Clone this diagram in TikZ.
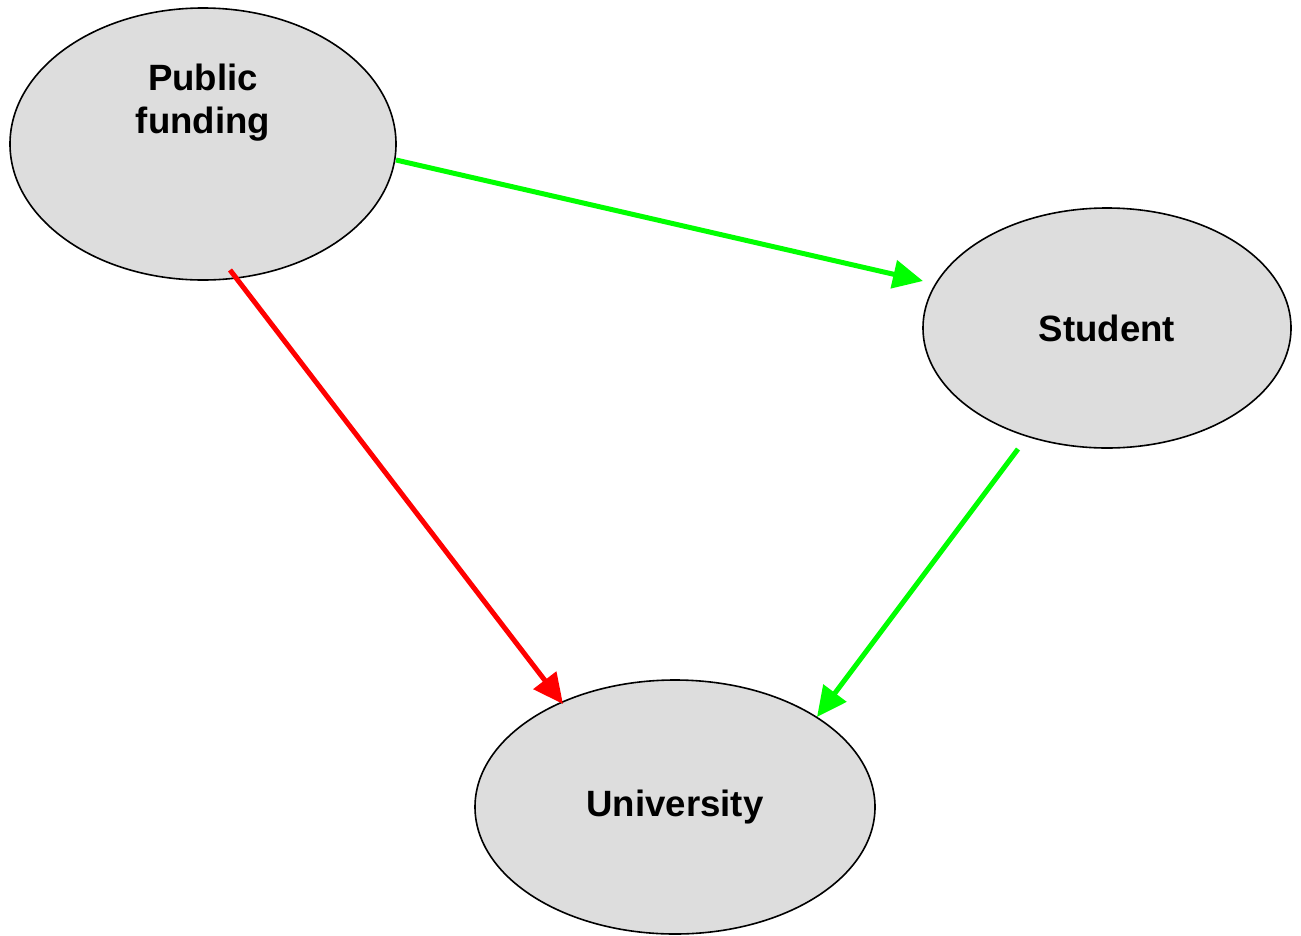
\documentclass[tikz,border=0pt]{standalone}
\usepackage{fontspec}
\setmainfont{Liberation Sans}
\usetikzlibrary{shapes.geometric,arrows.meta,calc}
\definecolor{nodefill}{HTML}{DDDDDD}
\definecolor{pgreen}{HTML}{00FF00}
\definecolor{pred}{HTML}{FF0000}
\begin{document}
\begin{tikzpicture}[x=1pt,y=-1pt,
  blob/.style={ellipse,draw=black,line width=1.6pt,fill=nodefill,inner sep=0pt},
  lbl/.style={font=\fontsize{36.6}{43}\selectfont\bfseries,align=center,inner sep=0pt},
  conn/.style={line width=5pt,-{Triangle[length=30pt,width=28pt]}}]
\useasboundingbox (0,0) rectangle (1301,935);
\node[blob,minimum width=386pt,minimum height=272pt] (pf) at (203,144) {};
\node[lbl] (pftext) at (203,103) {Public\\funding};
\node[blob,minimum width=368pt,minimum height=240pt,lbl] (st) at (1107,328) {Student};
\node[blob,minimum width=400pt,minimum height=254pt,lbl] (un) at (675,807) {University};
\draw[conn,draw=pgreen,fill=pgreen] ($(pf.center)+(193,16)$) -- ($(st.center)+(-184,-47)$);
\draw[conn,draw=pred,fill=pred] ($(pf.center)+(27,126)$) -- ($(un.center)+(-112,-103)$);
\draw[conn,draw=pgreen,fill=pgreen] ($(st.center)+(-89,121)$) -- ($(un.center)+(142,-90)$);
\end{tikzpicture}
\end{document}
